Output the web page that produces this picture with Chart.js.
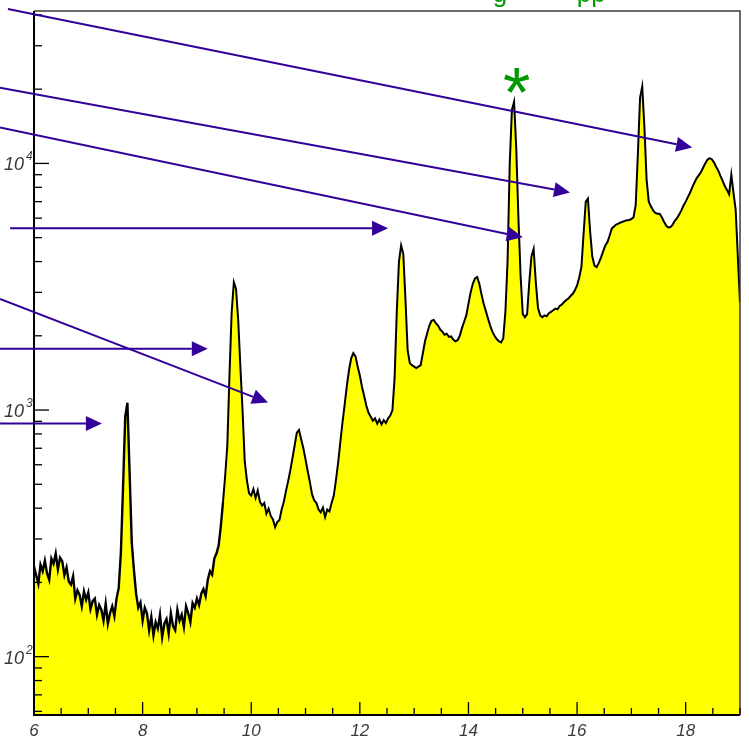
<!DOCTYPE html>
<html><head><meta charset="utf-8">
<script src="https://cdn.jsdelivr.net/npm/chart.js@4.4.1/dist/chart.umd.min.js"></script>
<style>html,body{margin:0;padding:0;background:#fff;}canvas{display:block;}</style>
</head><body>
<canvas id="c" width="749" height="749"></canvas>
<script>
// ---- data (bin centres start at 6.00, width 0.04) ----
const binStart = 6.0;
const binWidth = 0.04;
const counts6to10 = [
 232,214,198,236,222,245,218,205,250,238,262,226,252,244,214,230,202,196,212,172,186,178,160,184,170,
 182,156,168,172,148,162,155,140,164,136,150,160,146,172,190,265,490,940,1070,560,290,225,180,158,166,
 140,158,150,128,145,122,138,130,148,120,136,142,124,150,133,128,155,140,148,132,160,150,138,165,158,
 172,162,180,188,176,205,222,215,250,262,282,338,423,540,720,1400,2500,3300,3100,2320,1500,1000,620,520,460
];
const counts10to14 = [
 450,478,440,472,425,410,420,380,398,372,360,335,352,358,395,425,470,515,570,640,720,810,830,760,700,
 630,565,510,455,430,420,395,385,402,368,395,388,420,450,520,610,740,890,1050,1250,1450,1620,1700,1650,1500,
 1380,1240,1140,1040,975,940,905,925,880,915,875,910,885,925,950,1000,1350,2500,4000,4650,4300,2800,1750,1550,1520,
 1500,1480,1500,1520,1700,1900,2050,2200,2300,2320,2250,2200,2120,2080,2020,2040,1980,1990,1930,1900,1920,2000,2150,2280,2420
];
const counts14to19 = [
 2700,3000,3250,3420,3460,3250,2950,2700,2520,2350,2200,2080,2000,1940,1900,1880,1950,2500,4000,10000,16500,17800,11500,6000,3500,
 2450,2380,2450,3300,4200,4500,3300,2600,2420,2380,2420,2400,2470,2500,2540,2580,2560,2640,2680,2740,2790,2830,2900,2960,3060,
 3200,3450,3800,5200,7000,7200,5300,4200,3850,3800,3950,4150,4400,4650,4800,5100,5450,5550,5650,5700,5760,5800,5850,5880,5900,
 5950,6050,6800,11000,18500,20500,14000,8600,7000,6700,6450,6300,6250,6250,6050,5800,5600,5500,5520,5650,5850,6000,6200,6450,6750,
 7000,7300,7600,8000,8350,8700,8950,9200,9600,10000,10350,10500,10400,10100,9700,9350,8900,8500,8100,7800,7500,9000,7600,6500,4200,
 2720
];
const xTickLabels = [6, 8, 10, 12, 14, 16, 18];
const yDecadeExponents = [2, 3, 4];

// annotation arrows, in data coordinates [x, count]
const arrows = [
  {from: [5.52, 42300], to: [18.12, 11600]},
  {from: [5.374, 20280], to: [15.87, 7630]},
  {from: [5.374, 13980], to: [15.00, 5020]},
  {from: [5.56, 5460],  to: [12.52, 5460]},
  {from: [5.374, 2822], to: [10.31, 1072]},
  {from: [5.374, 1772], to: [9.20, 1772]},
  {from: [5.374, 882],  to: [7.25, 882]}
];
const starMark = {x: 14.89, y: 21630, text: '*'};

// ---- build points ----
const allCounts = counts6to10.concat(counts10to14, counts14to19);
const points = allCounts.map((c, i) => ({x: +(binStart + i * binWidth).toFixed(2), y: c}));

const ARROW = '#330099';
const GREEN = '#009a00';

const overlay = {
  id: 'overlay',
  afterDatasetsDraw(chart) {
    const {ctx, chartArea: a, scales: {x, y}} = chart;
    ctx.save();
    // frame
    ctx.lineCap = 'butt';
    ctx.strokeStyle = '#3a3a3a'; ctx.lineWidth = 1.5;
    ctx.beginPath(); ctx.moveTo(a.left, a.top); ctx.lineTo(a.right, a.top); ctx.lineTo(a.right, a.bottom); ctx.stroke();
    ctx.strokeStyle = '#000'; ctx.lineWidth = 2;
    ctx.beginPath(); ctx.moveTo(a.left, a.top); ctx.lineTo(a.left, a.bottom); ctx.lineTo(a.right, a.bottom); ctx.stroke();
    // x ticks (inside)
    ctx.lineWidth = 1.3; ctx.strokeStyle = '#000';
    for (let k = 0; k <= 26; k++) {
      const v = 6 + k * 0.5;
      const px = x.getPixelForValue(v);
      const major = (k % 4 === 0);
      const len = major ? 13 : 7;
      ctx.beginPath(); ctx.moveTo(px, a.bottom); ctx.lineTo(px, a.bottom - len); ctx.stroke();
    }
    // y ticks (inside)
    for (let e = 1; e <= 4; e++) {
      for (let m = 1; m <= 9; m++) {
        const v = m * Math.pow(10, e);
        if (v < y.min || v > y.max) continue;
        const py = y.getPixelForValue(v);
        const len = m === 1 ? 15 : 8;
        ctx.beginPath(); ctx.moveTo(a.left, py); ctx.lineTo(a.left + len, py); ctx.stroke();
      }
    }
    // y labels 10^n
    ctx.fillStyle = '#3a3a3a';
    yDecadeExponents.forEach(e => {
      const py = y.getPixelForValue(Math.pow(10, e));
      ctx.font = 'italic 18px "Liberation Sans"';
      ctx.textAlign = 'right'; ctx.textBaseline = 'alphabetic';
      ctx.fillText('10', a.left - 10, py + 7);
      ctx.font = 'italic 12px "Liberation Sans"';
      ctx.textAlign = 'left';
      ctx.fillText(String(e), a.left - 8, py - 3);
    });
    // arrows
    ctx.strokeStyle = ARROW; ctx.fillStyle = ARROW; ctx.lineWidth = 2;
    arrows.forEach(ar => {
      const x0 = x.getPixelForValue(ar.from[0]), y0 = y.getPixelForValue(ar.from[1]);
      const x1 = x.getPixelForValue(ar.to[0]), y1 = y.getPixelForValue(ar.to[1]);
      const ang = Math.atan2(y1 - y0, x1 - x0);
      const L = 16, W = 7.5;
      const bx = x1 - L * Math.cos(ang), by = y1 - L * Math.sin(ang);
      ctx.beginPath(); ctx.moveTo(x0, y0); ctx.lineTo(bx, by); ctx.stroke();
      ctx.beginPath();
      ctx.moveTo(x1, y1);
      ctx.lineTo(bx + W * Math.sin(ang), by - W * Math.cos(ang));
      ctx.lineTo(bx - W * Math.sin(ang), by + W * Math.cos(ang));
      ctx.closePath(); ctx.fill();
    });
    // green asterisk
    ctx.fillStyle = GREEN;
    ctx.font = '100px "Liberation Sans"';
    let m = ctx.measureText(starMark.text);
    const size = 100 * 26 / (m.actualBoundingBoxLeft + m.actualBoundingBoxRight);
    ctx.font = size + 'px "Liberation Sans"';
    m = ctx.measureText(starMark.text);
    const sx = x.getPixelForValue(starMark.x), sy = y.getPixelForValue(starMark.y);
    ctx.textAlign = 'center'; ctx.textBaseline = 'alphabetic';
    ctx.fillText(starMark.text, sx, sy + (m.actualBoundingBoxAscent - m.actualBoundingBoxDescent) / 2);
    // cut-off green heading at the top
    ctx.font = '26px "Liberation Sans"';
    ctx.textAlign = 'center';
    ctx.fillText('g', x.getPixelForValue(14.58), a.top - 9);
    ctx.fillText('pp', x.getPixelForValue(16.26), a.top - 9);
    ctx.restore();
  }
};

new Chart(document.getElementById('c'), {
  type: 'line',
  data: {
    datasets: [{
      data: points,
      borderColor: '#000',
      borderWidth: 2,
      backgroundColor: '#ffff00',
      fill: 'start',
      pointRadius: 0,
      tension: 0,
      segment: {
        borderWidth: c => (c.p0.parsed.x < 9.45 ? 2.4 : 2)
      }
    }]
  },
  options: {
    responsive: false,
    animation: false,
    devicePixelRatio: 1,
    layout: {padding: {left: 34, top: 11, right: 9, bottom: 0}},
    plugins: {legend: {display: false}, tooltip: {enabled: false}},
    scales: {
      x: {
        type: 'linear', min: 6, max: 19,
        afterFit: s => { s.height = 34; },
        afterBuildTicks: s => { s.ticks = xTickLabels.map(v => ({value: v})); },
        ticks: {
          autoSkip: false, maxRotation: 0,
          font: {family: '"Liberation Sans"', size: 17, style: 'italic'},
          color: '#3a3a3a', padding: 6
        },
        grid: {display: false, drawTicks: false},
        border: {display: false}
      },
      y: {
        type: 'logarithmic', min: 58, max: 41500,
        display: false
      }
    }
  },
  plugins: [overlay]
});
</script>
</body></html>
